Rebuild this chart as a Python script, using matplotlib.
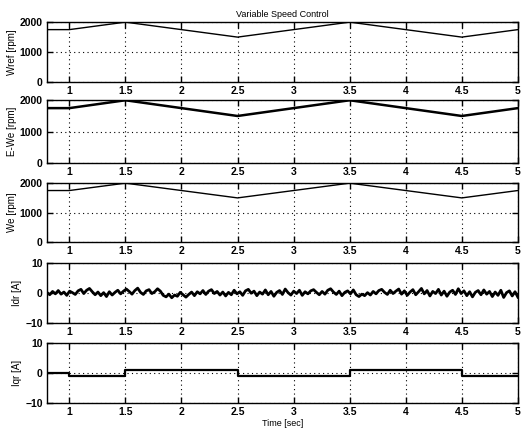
import numpy as np
import matplotlib.pyplot as plt

plt.rcParams['font.family'] = ['Liberation Sans', 'DejaVu Sans']
plt.rcParams['font.weight'] = 'bold'
plt.rcParams['font.size'] = 7

# speed profile breakpoints (sec, rpm)
t_speed = [0.8, 1.0, 1.5, 2.5, 3.5, 4.5, 5.0]
w_ref = [1750, 1750, 2000, 1500, 2000, 1500, 1750]
w_est = [1750, 1750, 2000, 1500, 2000, 1500, 1750]
w_act = [1750, 1750, 2000, 1500, 2000, 1500, 1750]

# q-axis rotor current steps (sec, A)
t_iq = [0.8, 1.0, 1.0, 1.5, 1.5, 2.5, 2.5, 3.5, 3.5, 4.5, 4.5, 5.0]
iq = [0.0, 0.0, -1.0, -1.0, 1.0, 1.0, -1.0, -1.0, 1.0, 1.0, -1.0, -1.0]

# d-axis rotor current (169 samples, 0.8 .. 5 s)
idr = [
    0.2, -0.6, 0.5, -0.3, 0.8, -0.4, 0.3, -0.8, 0.6, 0.1, -0.5, 0.7, 1.2,
    -0.2, 0.9, 1.5, 0.4, -0.6, 0.3, -0.9, 0.1, -1.2, 0.4, -0.7, 0.2, 0.9,
    -0.3, 0.6, 1.3, 0.5, -0.4, 0.8, 1.6, 0.2, -0.5, 0.7, 1.1, -0.2, 0.4,
    1.4, 0.6, -0.8, -1.3, -0.4, -1.6, -0.7, -1.1, 0.2, -0.6, -1.4, -0.5,
    0.3, -0.9, 0.4, -0.3, 0.8, -0.5, 0.6, 1.1, -0.2, 0.5, -0.7, 0.3, -1.0,
    0.2, -0.6, 0.9, -0.3, 0.4, -0.8, 0.7, 1.2, -0.1, 0.6, -0.9, 0.3, -0.4,
    1.0, -0.6, 0.5, -1.1, 0.2, 0.8, -0.5, 1.3, 0.1, -0.7, 0.6, -0.2, 0.9,
    -0.8, 0.4, -0.3, 0.7, 1.1, 0.2, -0.6, 0.5, -0.4, 0.9, 1.4, 0.3, -0.5,
    0.6, -0.9, 0.2, 0.7, -0.3, 1.0, -0.6, -1.2, -0.4, -0.9, 0.1, -0.7,
    0.5, -0.3, 0.8, 1.2, 0.2, -0.5, 0.9, -0.2, 0.6, 1.3, -0.4, 0.7, -0.8,
    0.3, 1.1, -0.6, 0.4, 1.5, -0.3, 0.8, -1.0, 0.5, -0.2, 1.2, -0.7, 0.6,
    -1.1, 0.3, 0.9, -0.5, 1.4, -0.2, 0.7, -0.9, 0.4, -1.3, 0.2, 0.8, -0.6,
    1.0, -0.4, 0.5, -1.2, 0.3, -0.8, 0.9, -1.5, 0.1, 0.7, -1.0, 0.4, -1.4,
]
t_idr = np.linspace(0.8, 5.0, len(idr))

x_ticks = [1, 1.5, 2, 2.5, 3, 3.5, 4, 4.5, 5]
x_ticklabels = ['1', '1.5', '2', '2.5', '3', '3.5', '4', '4.5', '5']

fig = plt.figure(figsize=(5.21, 4.34), dpi=100)

# axes boxes (left, bottom, width, height) in figure fraction
boxes = [
    [0.090, 0.811, 0.904, 0.138],
    [0.090, 0.624, 0.904, 0.145],
    [0.090, 0.442, 0.904, 0.136],
    [0.090, 0.256, 0.904, 0.138],
    [0.090, 0.071, 0.904, 0.138],
]

panels = [
    (t_speed, w_ref, 'Wref [rpm]', (0, 2000), [0, 1000, 2000], 1.0),
    (t_speed, w_est, 'E-We [rpm]', (0, 2000), [0, 1000, 2000], 1.8),
    (t_speed, w_act, 'We [rpm]', (0, 2000), [0, 1000, 2000], 1.0),
    (t_idr, idr, 'Idr [A]', (-10, 10), [-10, 0, 10], 2.0),
    (t_iq, iq, 'Iqr [A]', (-10, 10), [-10, 0, 10], 1.6),
]

axes = []
for box, (tx, y, lab, ylim, yt, lw) in zip(boxes, panels):
    ax = fig.add_axes(box)
    ax.plot(tx, y, color='black', linewidth=lw)
    ax.set_xlim(0.8, 5.0)
    ax.set_ylim(*ylim)
    ax.set_yticks(yt)
    ax.set_xticks(x_ticks)
    ax.set_xticklabels(x_ticklabels)
    ax.set_ylabel(lab, fontsize=7, labelpad=2)
    ax.grid(True, color='black', linestyle=(0, (1, 3)), linewidth=0.8)
    ax.tick_params(direction='in', top=True, right=True, length=4, width=1,
                   labelsize=7.5, pad=3)
    for s in ax.spines.values():
        s.set_linewidth(1.0)
    axes.append(ax)

axes[0].set_title('Variable Speed Control', fontsize=6.5, pad=4)
axes[-1].set_xlabel('Time [sec]', fontsize=6.5, labelpad=1)

fig.savefig('out.png', dpi=100)
